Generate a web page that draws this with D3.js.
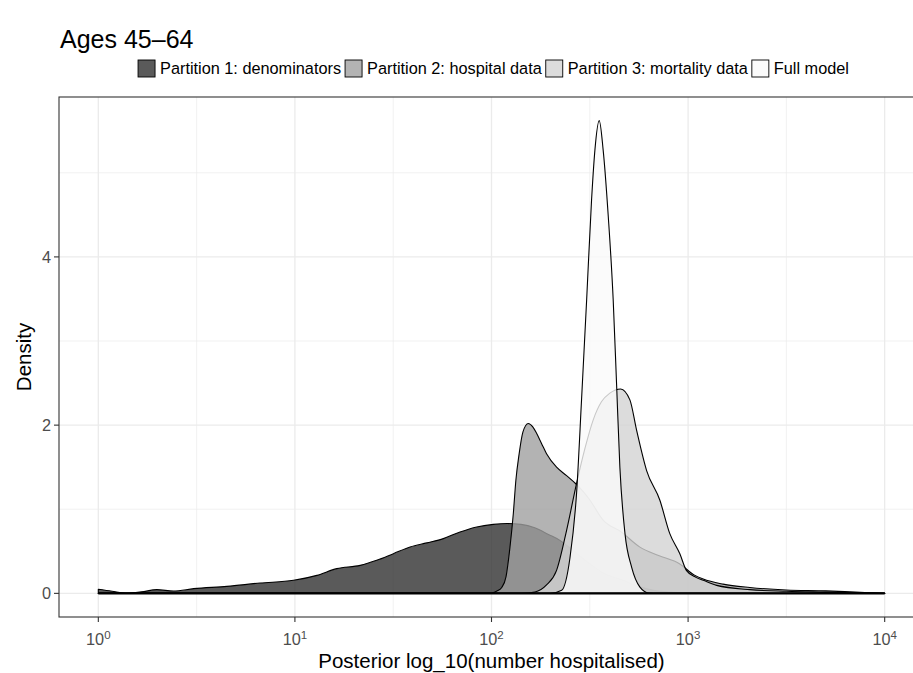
<!DOCTYPE html>
<html>
<head>
<meta charset="utf-8">
<script src="https://cdnjs.cloudflare.com/ajax/libs/d3/7.8.5/d3.min.js"></script>
<style>
  html, body { margin: 0; padding: 0; background: #fff; }
  svg { display: block; font-family: "Liberation Sans", Arial, Helvetica, sans-serif; }
</style>
</head>
<body>
<div id="chart"></div>
<script>
// Legend / draw order
const seriesNames = ["Partition 1: denominators", "Partition 2: hospital data", "Partition 3: mortality data", "Full model"];
const seriesFills = ["#313131", "#A0A0A0", "#D3D3D3", "#FAFAFA"];

// Densities: x = log10(number hospitalised)
const p1Log = [0, 0.07, 0.146, 0.22, 0.298, 0.383, 0.485, 0.654, 0.823, 0.993, 1.112, 1.213, 1.332, 1.416, 1.501, 1.586, 1.671, 1.755, 1.84, 1.925, 2.009, 2.08, 2.15, 2.22, 2.29, 2.348, 2.42, 2.501, 2.57, 2.67, 2.75, 2.823, 2.9, 3.0, 3.3, 4.0];
const p1Density = [0.048, 0.025, 0.004, 0.018, 0.044, 0.028, 0.056, 0.083, 0.123, 0.155, 0.214, 0.294, 0.333, 0.393, 0.472, 0.551, 0.60, 0.651, 0.73, 0.79, 0.82, 0.83, 0.82, 0.78, 0.70, 0.63, 0.50, 0.35, 0.24, 0.155, 0.08, 0.036, 0.015, 0.006, 0.002, 0];

const p2Log = [0, 1.95, 2.0, 2.03, 2.052, 2.074, 2.094, 2.111, 2.124, 2.14, 2.16, 2.187, 2.21, 2.23, 2.255, 2.28, 2.331, 2.382, 2.43, 2.47, 2.501, 2.568, 2.66, 2.755, 2.85, 2.958, 3.03, 3.077, 3.178, 3.314, 3.5, 3.7, 3.85, 4.0];
const p2Density = [0, 0, 0.005, 0.03, 0.07, 0.2, 0.55, 0.95, 1.345, 1.65, 1.92, 2.02, 1.98, 1.90, 1.78, 1.66, 1.50, 1.40, 1.30, 1.2, 1.107, 0.87, 0.73, 0.55, 0.45, 0.35, 0.22, 0.17, 0.11, 0.07, 0.04, 0.03, 0.015, 0];

const p3Log = [0, 2.15, 2.221, 2.28, 2.331, 2.382, 2.433, 2.475, 2.517, 2.56, 2.602, 2.657, 2.704, 2.738, 2.789, 2.856, 2.907, 2.958, 2.992, 3.04, 3.077, 3.145, 3.314, 3.5, 3.7, 3.85, 4.0];
const p3Density = [0, 0, 0.016, 0.1, 0.274, 0.75, 1.31, 1.72, 2.06, 2.28, 2.38, 2.43, 2.30, 1.94, 1.46, 1.11, 0.71, 0.47, 0.27, 0.19, 0.155, 0.095, 0.044, 0.025, 0.015, 0.008, 0];

const fullLog = [0, 2.30, 2.357, 2.399, 2.433, 2.458, 2.484, 2.509, 2.526, 2.548, 2.568, 2.594, 2.619, 2.636, 2.653, 2.679, 2.713, 2.755, 2.80, 2.85, 4.0];
const fullDensity = [0, 0, 0.036, 0.42, 1.2, 2.30, 3.49, 4.68, 5.27, 5.62, 5.27, 4.48, 3.49, 2.50, 1.50, 0.71, 0.31, 0.075, 0.005, 0, 0];

// Axis ticks
const xTickExponents = [0, 1, 2, 3, 4];
const xMinorExponents = [0.5, 1.5, 2.5, 3.5];
const yTicks = [0, 2, 4];
const yMinorTicks = [1, 3, 5];

const titleText = "Ages 45\u201364";
const xTitle = "Posterior log_10(number hospitalised)";
const yTitle = "Density";

const width = 913;
const height = 673;
const panel = { left: 59, top: 97, right: 924, bottom: 617 };

const series = [
    { name: seriesNames[0], fill: seriesFills[0], logs: p1Log, dens: p1Density },
    { name: seriesNames[1], fill: seriesFills[1], logs: p2Log, dens: p2Density },
    { name: seriesNames[2], fill: seriesFills[2], logs: p3Log, dens: p3Density },
    { name: seriesNames[3], fill: seriesFills[3], logs: fullLog, dens: fullDensity }
].map(s => ({ ...s, points: s.logs.map((l, i) => ({ x: Math.pow(10, l), y: s.dens[i] })) }));

// ggplot-style 5% expansion on both axes
const xLogMin = d3.min(series, s => d3.min(s.logs));
const xLogMax = d3.max(series, s => d3.max(s.logs));
const xPad = (xLogMax - xLogMin) * 0.05;
const x = d3.scaleLog()
    .domain([Math.pow(10, xLogMin - xPad), Math.pow(10, xLogMax + xPad)])
    .range([panel.left, panel.right]);

const yMax = d3.max(series, s => d3.max(s.dens));
const y = d3.scaleLinear()
    .domain([-yMax * 0.05, yMax * 1.05])
    .range([panel.bottom, panel.top]);

const svg = d3.select("#chart")
    .append("svg")
    .attr("width", width)
    .attr("height", height);

// Grid
const grid = svg.append("g").attr("stroke", "#EBEBEB").attr("fill", "none");
yMinorTicks.forEach(v => grid.append("line")
    .attr("x1", panel.left).attr("x2", panel.right)
    .attr("y1", y(v)).attr("y2", y(v)).attr("stroke-width", 0.7));
xMinorExponents.forEach(e => grid.append("line")
    .attr("x1", x(Math.pow(10, e))).attr("x2", x(Math.pow(10, e)))
    .attr("y1", panel.top).attr("y2", panel.bottom).attr("stroke-width", 0.7));
yTicks.forEach(v => grid.append("line")
    .attr("x1", panel.left).attr("x2", panel.right)
    .attr("y1", y(v)).attr("y2", y(v)).attr("stroke-width", 1.3));
xTickExponents.forEach(e => grid.append("line")
    .attr("x1", x(Math.pow(10, e))).attr("x2", x(Math.pow(10, e)))
    .attr("y1", panel.top).attr("y2", panel.bottom).attr("stroke-width", 1.3));

// Density areas
const area = d3.area()
    .x(d => x(d.x))
    .y0(y(0))
    .y1(d => y(d.y))
    .curve(d3.curveMonotoneX);

svg.append("g")
    .selectAll("path")
    .data(series)
    .enter()
    .append("path")
    .attr("d", d => area(d.points))
    .attr("fill", d => d.fill)
    .attr("fill-opacity", 0.8)
    .attr("stroke", "#000")
    .attr("stroke-width", 1.1)
    .attr("stroke-linejoin", "round");

// the four outlines overlap along zero, which reads as a heavier baseline
svg.append("line")
    .attr("x1", x(Math.pow(10, xLogMin)))
    .attr("x2", x(Math.pow(10, xLogMax)))
    .attr("y1", y(0))
    .attr("y2", y(0))
    .attr("stroke", "#000")
    .attr("stroke-width", 2.2);

// Panel border
svg.append("rect")
    .attr("x", panel.left)
    .attr("y", panel.top)
    .attr("width", panel.right - panel.left)
    .attr("height", panel.bottom - panel.top)
    .attr("fill", "none")
    .attr("stroke", "#333333")
    .attr("stroke-width", 1.1);

// Y axis
const yAxis = svg.append("g");
yTicks.forEach(v => {
    yAxis.append("line")
        .attr("x1", panel.left - 5).attr("x2", panel.left)
        .attr("y1", y(v)).attr("y2", y(v))
        .attr("stroke", "#333333").attr("stroke-width", 1.1);
    yAxis.append("text")
        .attr("x", panel.left - 8)
        .attr("y", y(v))
        .attr("dy", "0.36em")
        .attr("text-anchor", "end")
        .style("font-size", "16.3px")
        .style("fill", "#4D4D4D")
        .text(v);
});

// X axis with 10^k labels
const xAxis = svg.append("g");
xTickExponents.forEach(e => {
    const px = x(Math.pow(10, e));
    xAxis.append("line")
        .attr("x1", px).attr("x2", px)
        .attr("y1", panel.bottom).attr("y2", panel.bottom + 5)
        .attr("stroke", "#333333").attr("stroke-width", 1.1);
    const t = xAxis.append("text")
        .attr("x", px)
        .attr("y", 645)
        .attr("text-anchor", "middle")
        .style("font-size", "16.3px")
        .style("fill", "#4D4D4D");
    t.append("tspan").text("10");
    t.append("tspan").attr("dy", "-0.55em").style("font-size", "11.5px").text(e);
});

// Axis titles
svg.append("text")
    .attr("x", (panel.left + panel.right) / 2)
    .attr("y", 668)
    .attr("text-anchor", "middle")
    .style("font-size", "20.5px")
    .style("fill", "#000")
    .text(xTitle);

svg.append("text")
    .attr("transform", `translate(31, ${(panel.top + panel.bottom) / 2}) rotate(-90)`)
    .attr("text-anchor", "middle")
    .style("font-size", "20.5px")
    .style("fill", "#000")
    .text(yTitle);

// Title
svg.append("text")
    .attr("x", 60)
    .attr("y", 48)
    .style("font-size", "25px")
    .style("fill", "#000")
    .text(titleText);

// Legend - one row, centred over the panel
const legend = svg.append("g").attr("class", "legend");
const keySize = 17;
const keyGap = 5;
const itemGap = 4;
const legendY = 60;
const items = series.map(s => {
    const g = legend.append("g");
    g.append("rect")
        .attr("width", keySize)
        .attr("height", keySize)
        .attr("fill", s.fill)
        .attr("fill-opacity", 0.8)
        .attr("stroke", "#000")
        .attr("stroke-width", 0.9);
    const label = g.append("text")
        .attr("x", keySize + keyGap)
        .attr("y", keySize / 2)
        .attr("dy", "0.36em")
        .style("font-size", "16.3px")
        .style("fill", "#000")
        .text(s.name);
    return { g, w: keySize + keyGap + label.node().getComputedTextLength() };
});
const totalW = d3.sum(items, d => d.w) + itemGap * (items.length - 1);
let cursor = 493.5 - totalW / 2;
items.forEach(d => {
    d.g.attr("transform", `translate(${cursor}, ${legendY})`);
    cursor += d.w + itemGap;
});
</script>
</body>
</html>
